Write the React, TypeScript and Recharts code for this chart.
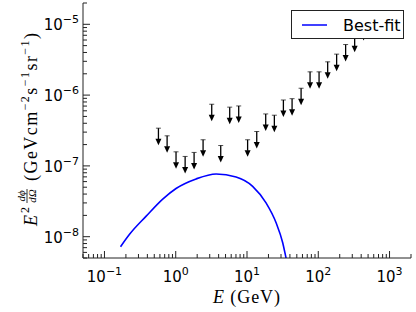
import {
  ComposedChart,
  Line,
  Scatter,
  XAxis,
  YAxis,
  Legend,
} from "recharts";

// major ticks + their exponent labels
const energyMajor = [0.1, 1, 10, 100, 1000];
const energyExp = ["−1", "0", "1", "2", "3"];
const fluxMajor = [1e-8, 1e-7, 1e-6, 1e-5];
const fluxExp = ["−8", "−7", "−6", "−5"];

// upper limits (GeV, GeV cm^-2 s^-1 sr^-1)
const limitEnergy = [
  0.572, 0.757, 1.01, 1.355, 1.81, 2.42, 3.2, 4.28, 5.72, 7.65, 10.2, 13.7,
  18.3, 24.2, 32.4, 42.9, 57.4, 76.7, 102.6, 135.5, 181, 242, 324, 433,
];
const limitFlux = [
  3.41e-7, 2.66e-7, 1.58e-7, 1.36e-7, 1.55e-7, 2.34e-7, 7.43e-7, 1.94e-7,
  6.76e-7, 7.03e-7, 2.34e-7, 3.06e-7, 5.42e-7, 5.2e-7, 8.53e-7, 8.9e-7,
  1.25e-6, 2.13e-6, 2.13e-6, 2.95e-6, 3.79e-6, 5.18e-6, 7.0e-6, 1.03e-5,
];

// best-fit spectrum
const fitEnergy = [
  0.168, 0.225, 0.385, 0.657, 1.01, 1.93, 3.69, 7.03, 12.0, 18.5, 25.6, 31.7,
  35.3, 37.5,
];
const fitFlux = [
  7.2e-9, 1.08e-8, 1.95e-8, 3.4e-8, 4.8e-8, 6.55e-8, 7.69e-8, 6.98e-8,
  5.15e-8, 3.0e-8, 1.57e-8, 8.2e-9, 5.0e-9, 3.8e-9,
];

const X_DOMAIN: [number, number] = [0.05, 2000];
const Y_DOMAIN: [number, number] = [5e-9, 2e-5];

const limits = limitEnergy.map((x, i) => ({ x, y: limitFlux[i] }));
const fit = fitEnergy.map((x, i) => ({ x, y: fitFlux[i] }));

const logTicks = (lo: number, hi: number) => {
  const out: number[] = [];
  for (let k = Math.floor(Math.log10(lo)); k <= Math.ceil(Math.log10(hi)); k++) {
    for (let m = 1; m <= 9; m++) {
      const v = Number((m * Math.pow(10, k)).toPrecision(3));
      if (v >= lo * 0.999 && v <= hi * 1.001) out.push(v);
    }
  }
  return out;
};
const xTicks = logTicks(X_DOMAIN[0], X_DOMAIN[1]);
const yTicks = logTicks(Y_DOMAIN[0], Y_DOMAIN[1]);

const majorIdx = (v: number, list: number[]) =>
  list.findIndex((m) => Math.abs(Math.log10(v) - Math.log10(m)) < 1e-6);

const FRAME = "#222";
const SANS = "DejaVu Sans";
const SERIF = "Liberation Serif";

const BottomTick = (props: any) => {
  const { x, y, payload } = props;
  const i = majorIdx(payload.value, energyMajor);
  return (
    <g>
      <line x1={x} x2={x} y1={y} y2={y - (i >= 0 ? 7 : 4)} stroke={FRAME} />
      {i >= 0 && (
        <text x={x} y={y + 24} textAnchor="middle" fontFamily={SANS} fill="#000">
          <tspan fontSize={15}>10</tspan>
          <tspan fontSize={11} dy={-7}>{energyExp[i]}</tspan>
        </text>
      )}
    </g>
  );
};

const TopTick = (props: any) => {
  const { x, y, payload } = props;
  const i = majorIdx(payload.value, energyMajor);
  return <line x1={x} x2={x} y1={y} y2={y + (i >= 0 ? 7 : 4)} stroke={FRAME} />;
};

const LeftTick = (props: any) => {
  const { x, y, payload } = props;
  const i = majorIdx(payload.value, fluxMajor);
  return (
    <g>
      <line x1={x} x2={x + (i >= 0 ? 7 : 4)} y1={y} y2={y} stroke={FRAME} />
      {i >= 0 && (
        <text x={x - 4} y={y + 6} textAnchor="end" fontFamily={SANS} fill="#000">
          <tspan fontSize={15}>10</tspan>
          <tspan fontSize={11} dy={-7}>{fluxExp[i]}</tspan>
        </text>
      )}
    </g>
  );
};

const RightTick = (props: any) => {
  const { x, y, payload } = props;
  const i = majorIdx(payload.value, fluxMajor);
  return <line x1={x} x2={x - (i >= 0 ? 7 : 4)} y1={y} y2={y} stroke={FRAME} />;
};

// downward arrow marking an upper limit
const UpperLimit = (props: any) => {
  const { cx, cy } = props;
  if (cx == null || cy == null) return <g />;
  return (
    <g>
      <line x1={cx - 2.5} x2={cx + 2.5} y1={cy} y2={cy} stroke="#555" strokeWidth={1} />
      <line x1={cx} x2={cx} y1={cy} y2={cy + 11} stroke="#000" strokeWidth={1.3} />
      <polygon
        points={`${cx - 3},${cy + 10.5} ${cx + 3},${cy + 10.5} ${cx},${cy + 17}`}
        fill="#000"
      />
    </g>
  );
};

const XTitle = () => (
  <text
    x={213}
    y={303}
    fontFamily={SERIF}
    fontSize={18}
    fill="#000"
    textLength={67}
    lengthAdjust="spacing"
  >
    <tspan fontStyle="italic">E</tspan>
    <tspan> (GeV)</tspan>
  </text>
);

const YTitle = () => (
  <g transform="translate(37,129) rotate(-90)" fill="#000">
    <text x={-97} y={0} fontSize={18} fontStyle="italic" fontFamily={SERIF}>E</text>
    <text x={-84} y={-8} fontSize={12} fontFamily={SERIF}>2</text>
    <text x={-67} y={-12.5} fontSize={11} fontStyle="italic" fontFamily={SERIF} textAnchor="middle">dϕ</text>
    <line x1={-74} x2={-60} y1={-10} y2={-10} stroke="#000" strokeWidth={0.8} />
    <text x={-67} y={-1} fontSize={11} fontStyle="italic" fontFamily={SERIF} textAnchor="middle">dΩ</text>
    <text x={-52} y={0} fontSize={18} fontFamily={SERIF} textLength={148} lengthAdjust="spacing">
      <tspan>(GeVcm</tspan>
      <tspan fontSize={12} dy={-8}>−2</tspan>
      <tspan dy={8}>s</tspan>
      <tspan fontSize={12} dy={-8}>−1</tspan>
      <tspan dy={8}>sr</tspan>
      <tspan fontSize={12} dy={-8}>−1</tspan>
      <tspan dy={8}>)</tspan>
    </text>
  </g>
);

const LegendBox = () => (
  <div
    style={{
      width: 111,
      height: 27,
      background: "#fff",
      border: `1px solid ${FRAME}`,
      position: "relative",
    }}
  >
    <svg width={111} height={27} style={{ position: "absolute", left: 0, top: 0 }}>
      <line x1={10} x2={35} y1={14} y2={14} stroke="#0000ff" strokeWidth={1.5} />
      <text x={51} y={19.5} fontFamily={SANS} fontSize={16} fill="#000">
        Best-fit
      </text>
    </svg>
  </div>
);

export default function App() {
  return (
    <div style={{ position: "absolute", left: 0, top: 0, width: 416, height: 312, background: "#fff" }}>
      <ComposedChart
        width={416}
        height={312}
        margin={{ top: 3, right: 5, bottom: 0, left: 23 }}
      >
        <XAxis
          xAxisId="b"
          dataKey="x"
          type="number"
          scale="log"
          domain={X_DOMAIN}
          allowDataOverflow
          ticks={xTicks}
          interval={0}
          tickLine={false}
          tickSize={0}
          tickMargin={0}
          tick={<BottomTick />}
          axisLine={{ stroke: FRAME }}
          height={54}
          label={<XTitle />}
        />
        <XAxis
          xAxisId="t"
          orientation="top"
          dataKey="x"
          type="number"
          scale="log"
          domain={X_DOMAIN}
          allowDataOverflow
          ticks={xTicks}
          interval={0}
          tickLine={false}
          tickSize={0}
          tickMargin={0}
          tick={<TopTick />}
          axisLine={{ stroke: FRAME }}
          height={0}
        />
        <YAxis
          yAxisId="l"
          dataKey="y"
          type="number"
          scale="log"
          domain={Y_DOMAIN}
          allowDataOverflow
          ticks={yTicks}
          interval={0}
          tickLine={false}
          tickSize={0}
          tickMargin={0}
          tick={<LeftTick />}
          axisLine={{ stroke: FRAME }}
          width={60}
          label={<YTitle />}
        />
        <YAxis
          yAxisId="r"
          orientation="right"
          dataKey="y"
          type="number"
          scale="log"
          domain={Y_DOMAIN}
          allowDataOverflow
          ticks={yTicks}
          interval={0}
          tickLine={false}
          tickSize={0}
          tickMargin={0}
          tick={<RightTick />}
          axisLine={{ stroke: FRAME }}
          width={0}
        />
        <Line
          xAxisId="b"
          yAxisId="l"
          data={fit}
          dataKey="y"
          type="monotone"
          stroke="#0000ff"
          strokeWidth={1.6}
          dot={false}
          isAnimationActive={false}
        />
        <Scatter
          xAxisId="b"
          yAxisId="l"
          data={limits}
          dataKey="y"
          shape={<UpperLimit />}
          isAnimationActive={false}
        />
        <Legend
          layout="vertical"
          align="center"
          verticalAlign="middle"
          content={<LegendBox />}
          wrapperStyle={{ left: 291, top: 10, width: 113, height: 29 }}
        />
      </ComposedChart>
    </div>
  );
}
